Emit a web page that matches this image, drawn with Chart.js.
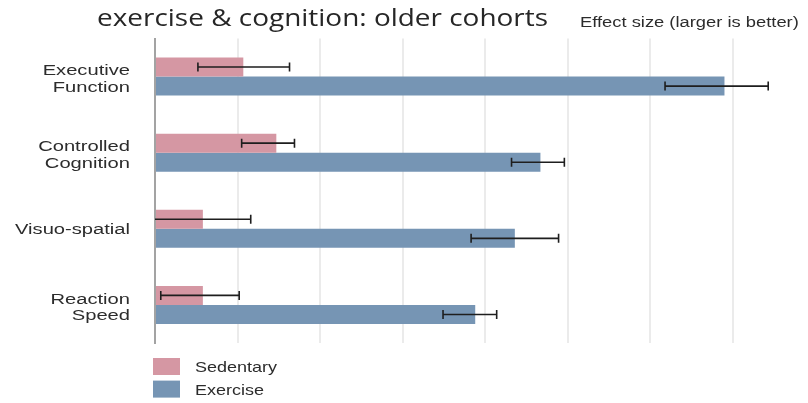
<!DOCTYPE html>
<html>
<head>
<meta charset="utf-8">
<script src="https://cdn.jsdelivr.net/npm/chart.js@4/dist/chart.umd.min.js"></script>
<style>
  html, body { margin: 0; padding: 0; background: #ffffff; }
  #wrap { width: 808px; height: 403px; position: relative; }
</style>
</head>
<body>
<div id="wrap"><canvas id="c" width="808" height="403"></canvas></div>
<script>
// Outcome domains (two-line labels are arrays)
const categories = [['Executive', 'Function'], ['Controlled', 'Cognition'], 'Visuo-spatial', ['Reaction', 'Speed']];

// Effect sizes and interval bounds per group
const sedentary     = [0.107, 0.147, 0.058, 0.058];
const sedentaryLow  = [0.052, 0.105, -0.010, 0.007];
const sedentaryHigh = [0.163, 0.169, 0.116, 0.102];

const exercise      = [0.690, 0.467, 0.436, 0.388];
const exerciseLow   = [0.618, 0.432, 0.383, 0.349];
const exerciseHigh  = [0.743, 0.496, 0.489, 0.414];

// Gridline positions on the effect-size axis
const xTicks = [0, 0.1, 0.2, 0.3, 0.4, 0.5, 0.6, 0.7];

const titleText = 'exercise & cognition: older cohorts';
const axisNote = 'Effect size (larger is better)';

const PINK = '#d597a3';
const BLUE = '#7695b4';
const TEXT = '#2c2c2c';

function stretchedText(ctx, text, x, y, font, color, align, sx) {
  ctx.save();
  ctx.font = font;
  ctx.fillStyle = color;
  ctx.textAlign = align;
  ctx.textBaseline = 'alphabetic';
  ctx.translate(x, y);
  ctx.scale(sx, 1);
  ctx.fillText(text, 0, 0);
  ctx.restore();
}

// Interval whiskers drawn from the low/high arrays through the x scale
const errorBars = {
  id: 'errorBars',
  afterDatasetsDraw(chart) {
    const ctx = chart.ctx;
    const xs = chart.scales.x;
    const area = chart.chartArea;
    chart.data.datasets.forEach((ds, di) => {
      const meta = chart.getDatasetMeta(di);
      meta.data.forEach((bar, i) => {
        const lo = xs.getPixelForValue(ds.low[i]);
        const hi = xs.getPixelForValue(ds.high[i]);
        const y = bar.y;
        const x0 = Math.max(lo, area.left);
        const x1 = Math.min(hi, area.right);
        ctx.save();
        ctx.strokeStyle = '#1e1e1e';
        ctx.lineWidth = 1.6;
        ctx.beginPath();
        ctx.moveTo(x0, y);
        ctx.lineTo(x1, y);
        if (lo >= area.left) { ctx.moveTo(lo, y - 4.5); ctx.lineTo(lo, y + 4.5); }
        if (hi <= area.right) { ctx.moveTo(hi, y - 4.5); ctx.lineTo(hi, y + 4.5); }
        ctx.stroke();
        ctx.restore();
      });
    });
  }
};

// Category labels, title, axis note and the stacked legend
const decorations = {
  id: 'decorations',
  afterDraw(chart) {
    const ctx = chart.ctx;
    const ys = chart.scales.y;
    const labelFont = '15.5px "Liberation Sans", Arial, sans-serif';
    categories.forEach((lab, i) => {
      const cy = ys.getPixelForValue(i);
      const lines = Array.isArray(lab) ? lab : [lab];
      const lh = 16.4;
      const shift = lines.length > 1 ? 1.5 : 0;
      lines.forEach((ln, k) => {
        const mid = cy + shift + (k - (lines.length - 1) / 2) * lh;
        stretchedText(ctx, ln, 130, mid + 5.5, labelFont, TEXT, 'right', 1.3);
      });
    });

    stretchedText(ctx, titleText, 97, 26, '23px "Open Sans", sans-serif', '#262626', 'left', 1.215);
    stretchedText(ctx, axisNote, 580, 27, '14px "Liberation Sans", Arial, sans-serif', TEXT, 'left', 1.31);

    chart.data.datasets.forEach((ds, di) => {
      const top = 358 + di * 22.6;
      ctx.fillStyle = ds.backgroundColor;
      ctx.fillRect(153, top, 27, 17);
      stretchedText(ctx, ds.label, 195, top + 14, '15px "Liberation Sans", Arial, sans-serif', TEXT, 'left', 1.2);
    });
  }
};

new Chart(document.getElementById('c'), {
  type: 'bar',
  data: {
    labels: categories,
    datasets: [
      { label: 'Sedentary', data: sedentary, low: sedentaryLow, high: sedentaryHigh,
        backgroundColor: PINK, borderWidth: 0 },
      { label: 'Exercise', data: exercise, low: exerciseLow, high: exerciseHigh,
        backgroundColor: BLUE, borderWidth: 0 }
    ]
  },
  options: {
    indexAxis: 'y',
    responsive: false,
    animation: false,
    events: [],
    barPercentage: 1.0,
    categoryPercentage: 0.5,
    layout: { padding: { left: 155, top: 38.5, right: 1, bottom: 60 } },
    plugins: {
      legend: { display: false },
      tooltip: { enabled: false },
      title: { display: false }
    },
    scales: {
      x: {
        min: 0,
        max: 0.79,
        afterBuildTicks(scale) { scale.ticks = xTicks.map(v => ({ value: v })); },
        afterFit(scale) { scale.height = 0; },
        ticks: { display: false },
        grid: { color: '#ebebeb', lineWidth: 2, drawTicks: false },
        border: { display: false }
      },
      y: {
        afterFit(scale) { scale.width = 0; },
        ticks: { display: false },
        grid: { display: false, drawTicks: false },
        border: { display: true, color: '#a3a3a3', width: 2 }
      }
    }
  },
  plugins: [errorBars, decorations]
});
</script>
</body>
</html>
